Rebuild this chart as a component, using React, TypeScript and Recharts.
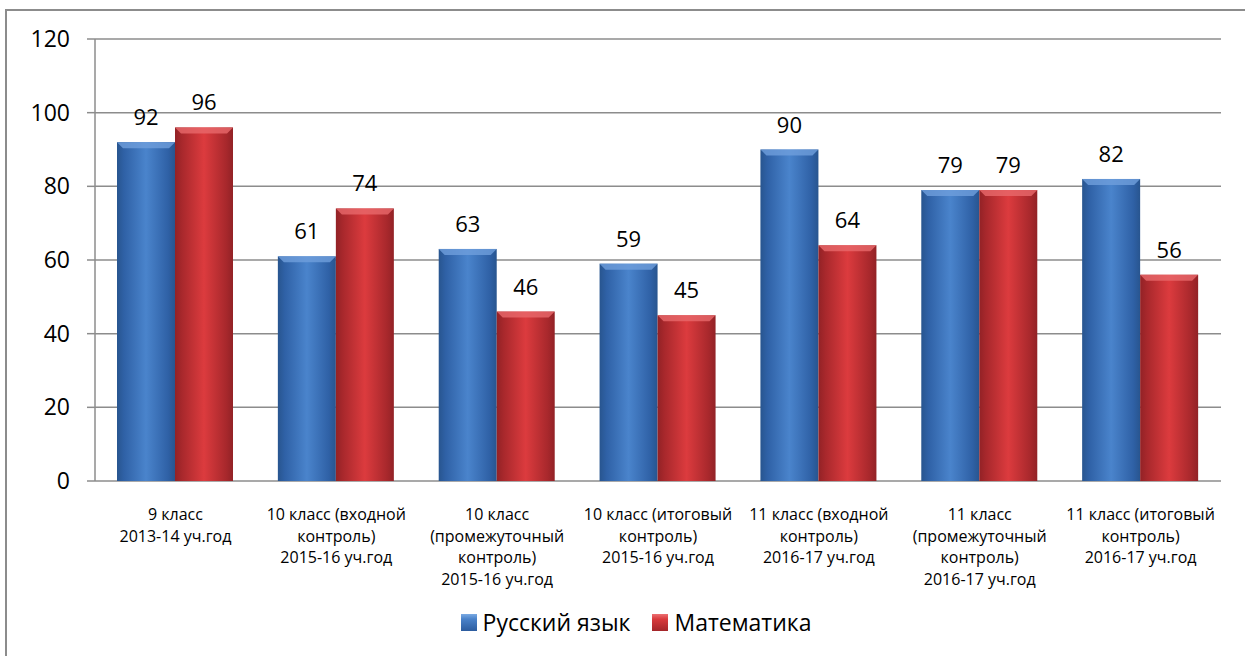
import { BarChart, Bar, XAxis, YAxis, CartesianGrid, Legend, LabelList } from "recharts"

const categories = [
    ["9 класс", "2013-14 уч.год"],
    ["10 класс (входной", "контроль)", "2015-16 уч.год"],
    ["10 класс", "(промежуточный", "контроль)", "2015-16 уч.год"],
    ["10 класс (итоговый", "контроль)", "2015-16 уч.год"],
    ["11 класс (входной", "контроль)", "2016-17 уч.год"],
    ["11 класс", "(промежуточный", "контроль)", "2016-17 уч.год"],
    ["11 класс (итоговый", "контроль)", "2016-17 уч.год"],
]
const russian = [92, 61, 63, 59, 90, 79, 82]
const math = [96, 74, 46, 45, 64, 79, 56]
const yTicks = [0, 20, 40, 60, 80, 100, 120]
const seriesNames = ["Русский язык", "Математика"]

const data = categories.map((lines, i) => ({
    name: lines.join(" "),
    idx: i,
    ru: russian[i],
    ma: math[i],
}))
const boundaryTicks = [...categories.map((_, i) => i), categories.length]

const FONT = "'Open Sans', 'Noto Sans', sans-serif"
const GRID = "#8c8c8c"

const PALETTE = {
    blue: { edge: "#2f61a6", mid: "#4a84cc", top: "#6f9fdc", side: "#28558f" },
    red: { edge: "#a8282c", mid: "#dc3b3e", top: "#e8696b", side: "#922226" },
}

function bevelBar(kind: "blue" | "red") {
    return (props: any) => {
        const { x, y, width, height, index } = props
        if (!height || height <= 0) return <g />
        const c = PALETTE[kind]
        const id = `g-${kind}-${index}`
        const b = Math.min(6, width / 6)
        return (
            <g>
                <defs>
                    <linearGradient id={id} x1="0" y1="0" x2="1" y2="0">
                        <stop offset="0%" stopColor={c.side} />
                        <stop offset="12%" stopColor={c.edge} />
                        <stop offset="50%" stopColor={c.mid} />
                        <stop offset="88%" stopColor={c.edge} />
                        <stop offset="100%" stopColor={c.side} />
                    </linearGradient>
                </defs>
                <rect x={x} y={y} width={width} height={height} fill={`url(#${id})`} />
                <polygon
                    points={`${x},${y} ${x + width},${y} ${x + width - b},${y + b} ${x + b},${y + b}`}
                    fill={c.top}
                    opacity={0.8}
                />
            </g>
        )
    }
}

const CategoryTick = (props: any) => {
    const { x, y, payload } = props
    const lines = categories[payload.index] || []
    return (
        <text x={x} y={y} textAnchor="middle" fontSize={16} fontFamily={FONT} fill="#000">
            {lines.map((l, i) => (
                <tspan key={i} x={x} dy={i === 0 ? 39 : 21.5}>{l}</tspan>
            ))}
        </text>
    )
}

const LegendContent = () => {
    const swatches = [
        "linear-gradient(180deg, #7aaae3 0%, #4a82c9 30%, #2c5c9f 100%)",
        "linear-gradient(180deg, #ec7072 0%, #d93a3d 30%, #a3262a 100%)",
    ]
    return (
        <div style={{ display: "flex", justifyContent: "center", alignItems: "center", paddingLeft: 27, paddingTop: 5, fontFamily: FONT, fontSize: 23, color: "#000" }}>
            {seriesNames.map((n, i) => (
                <div key={n} style={{ display: "flex", alignItems: "center", marginRight: i === 0 ? 22 : 0 }}>
                    <span style={{ width: 16, height: 17, background: swatches[i], marginRight: 6, display: "inline-block" }} />
                    <span>{n}</span>
                </div>
            ))}
        </div>
    )
}

export default function App() {
    return (
        <div style={{ position: "absolute", left: 0, top: 0, width: 1245, height: 656, overflow: "hidden", background: "#fff" }}>
            <div style={{ position: "absolute", left: 5, top: 9, width: 1400, height: 800, border: `2px solid ${GRID}` }} />
            <div style={{ position: "absolute", left: 0, top: 0 }}>
                <BarChart
                    width={1245}
                    height={656}
                    data={data}
                    margin={{ top: 39, right: 24, left: 0, bottom: 0 }}
                    barCategoryGap={22}
                    barGap={0}
                >
                    <CartesianGrid horizontal={true} vertical={false} stroke={GRID} strokeWidth={1.5} />
                    <XAxis
                        xAxisId="bounds"
                        type="number"
                        domain={[0, categories.length]}
                        ticks={boundaryTicks}
                        tickFormatter={() => ""}
                        tickSize={8}
                        height={0}
                        stroke={GRID}
                        strokeWidth={1.5}
                    />
                    <XAxis
                        xAxisId="cat"
                        dataKey="name"
                        axisLine={false}
                        tickLine={false}
                        tickSize={0}
                        tickMargin={0}
                        height={120}
                        interval={0}
                        tick={<CategoryTick />}
                    />
                    <YAxis
                        domain={[0, 120]}
                        ticks={yTicks}
                        width={95}
                        tickSize={8}
                        tickMargin={17}
                        stroke={GRID}
                        strokeWidth={1.5}
                        tick={{ fontSize: 23, fill: "#000", fontFamily: FONT }}
                    />
                    <Legend
                        verticalAlign="bottom"
                        content={<LegendContent />}
                        wrapperStyle={{ left: 0, width: 1245, height: 55, bottom: 0 }}
                    />
                    <Bar xAxisId="cat" dataKey="ru" name={seriesNames[0]} shape={bevelBar("blue")} isAnimationActive={false}>
                        <LabelList dataKey="ru" position="top" offset={17} fontSize={22} fill="#000" fontFamily={FONT} />
                    </Bar>
                    <Bar xAxisId="cat" dataKey="ma" name={seriesNames[1]} shape={bevelBar("red")} isAnimationActive={false}>
                        <LabelList dataKey="ma" position="top" offset={17} fontSize={22} fill="#000" fontFamily={FONT} />
                    </Bar>
                </BarChart>
            </div>
        </div>
    )
}
